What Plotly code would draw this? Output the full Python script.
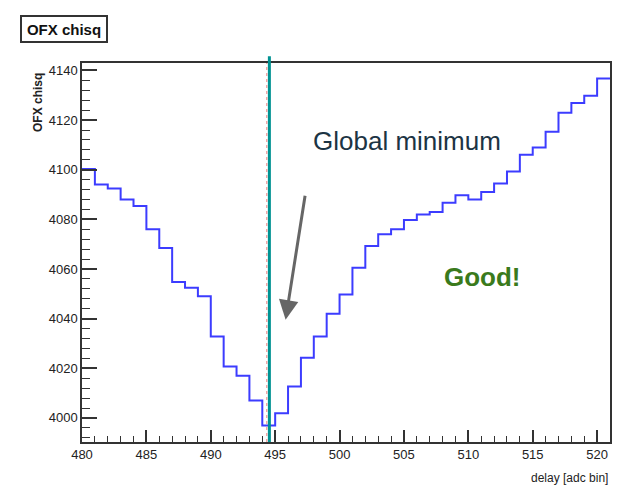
import plotly.graph_objects as go

# Histogram: bins of width 1 starting at delay 480
bin_low = list(range(480, 521))
chisq = [4100.3, 4094.0, 4092.4, 4088.0, 4085.4, 4076.0, 4068.5, 4054.8, 4052.4, 4049.0,
         4032.8, 4020.7, 4017.0, 4007.0, 3996.9, 4001.9, 4012.7, 4024.2, 4032.8, 4042.0,
         4049.7, 4060.5, 4069.3, 4074.0, 4076.0, 4079.7, 4082.0, 4083.0, 4086.7, 4089.7,
         4088.0, 4091.0, 4094.5, 4099.3, 4106.0, 4109.0, 4115.3, 4123.0, 4126.9, 4129.8,
         4136.8]
bin_width = 1

x_ticks = [480, 485, 490, 495, 500, 505, 510, 515, 520]
y_ticks = [4000, 4020, 4040, 4060, 4080, 4100, 4120, 4140]

best_delay = 494.55
marker_delay = 494.35

# step line: bin edges
xs = bin_low + [bin_low[-1] + bin_width]
ys = chisq + [chisq[-1]]

fig = go.Figure()
fig.add_trace(go.Scatter(x=xs, y=ys, mode="lines", line=dict(color="#3c3cff", width=2, shape="hv"),
                         hoverinfo="skip", showlegend=False))

FONT = "Liberation Sans, Arial, sans-serif"
axis_common = dict(showgrid=False, zeroline=False, showline=True, linecolor="#333", linewidth=1.5,
                   mirror=True, ticks="inside", tickcolor="#333",
                   tickfont=dict(family=FONT, size=13, color="#222"))

fig.update_xaxes(range=[480, 521], tickvals=x_ticks, ticklen=12, tickwidth=1.5,
                 minor=dict(dtick=1, ticks="inside", ticklen=6, tickcolor="#333", tickwidth=1),
                 **axis_common)
fig.update_yaxes(range=[3990.3, 4143], tickvals=y_ticks, ticklen=15, tickwidth=1.5,
                 minor=dict(dtick=4, tick0=4000, ticks="inside", ticklen=8, tickcolor="#333", tickwidth=1),
                 **axis_common)

# vertical marker lines
fig.add_shape(type="line", xref="x", yref="paper", x0=marker_delay, x1=marker_delay, y0=0, y1=1,
              line=dict(color="#f08080", width=1, dash="dot"))
fig.add_shape(type="line", xref="x", yref="paper", x0=best_delay, x1=best_delay, y0=0, y1=1.018,
              line=dict(color="#009292", width=3))

# arrow
fig.add_annotation(x=495.81, y=4039.6, ax=497.34, ay=4090.1, xref="x", yref="y", axref="x", ayref="y",
                   text="", showarrow=True, arrowhead=2, arrowsize=1.3, arrowwidth=3, arrowcolor="#666666")

fig.add_annotation(x=505.2, y=4111.5, xref="x", yref="y", text="Global minimum", showarrow=False,
                   xanchor="center", yanchor="middle",
                   font=dict(family=FONT, size=26, color="#1c3444"))
fig.add_annotation(x=511.1, y=4056.6, xref="x", yref="y", text="<b>Good!</b>", showarrow=False,
                   xanchor="center", yanchor="middle",
                   font=dict(family=FONT, size=26, color="#3a7a1c"))

# plot area in page pixels: x 82..610, y 63..442
W_PLOT, H_PLOT = 528, 379
def px_x(p):
    return (p - 82) / W_PLOT
def px_y(p):
    return (442 - p) / H_PLOT

# title box
fig.add_annotation(x=px_x(64), y=px_y(29), xref="paper", yref="paper", text="<b>OFX chisq</b>",
                   showarrow=False, xanchor="center", yanchor="middle",
                   font=dict(family=FONT, size=15, color="#111"), bgcolor="white",
                   bordercolor="#333", borderwidth=2, borderpad=1, width=82, height=22)

# axis titles
fig.add_annotation(x=px_x(38), y=px_y(103), xref="paper", yref="paper", text="<b>OFX chisq</b>",
                   showarrow=False, textangle=-90, xanchor="center", yanchor="middle",
                   font=dict(family=FONT, size=12, color="#222"))
fig.add_annotation(x=1.0, y=px_y(478), xref="paper", yref="paper", text="delay [adc bin]",
                   showarrow=False, xanchor="right", yanchor="middle",
                   font=dict(family=FONT, size=12, color="#222"))

# page body has an 8px offset; margins compensate so the plot area lands at 82..610 x 63..442
fig.update_layout(width=634, height=494, margin=dict(l=74, r=32, t=55, b=60),
                  plot_bgcolor="white", paper_bgcolor="white", showlegend=False)

fig.write_html("out.html")
